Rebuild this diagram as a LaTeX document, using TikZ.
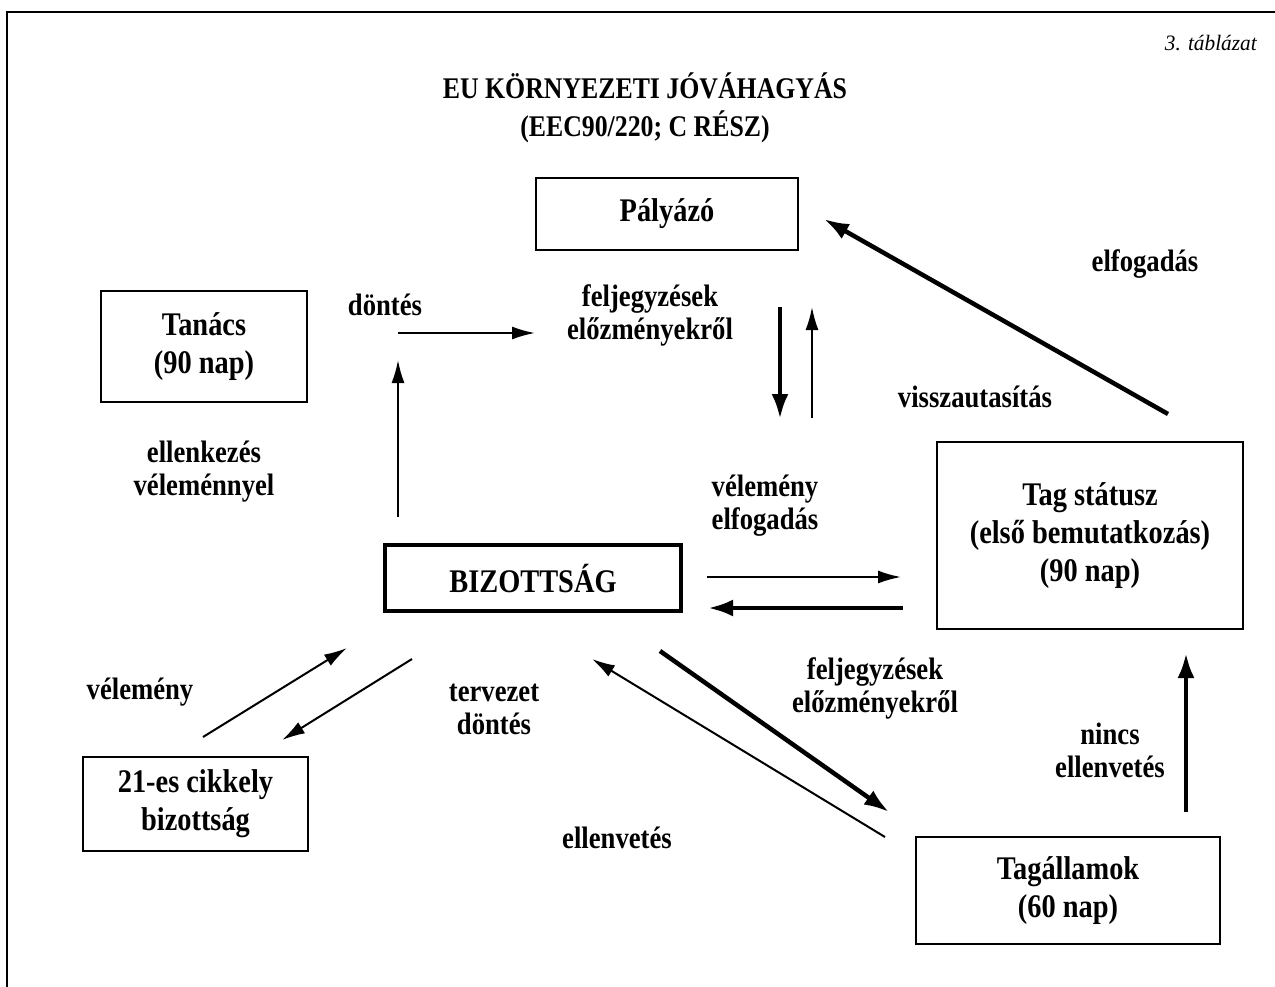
\documentclass[tikz,border=0pt]{standalone}
\usepackage{fontspec}
\setmainfont{Liberation Serif}
\newfontfamily\cond{Liberation Serif}[FakeStretch=0.86]
\newfontfamily\condb{Liberation Serif}[FakeStretch=0.97]
\usetikzlibrary{arrows.meta}
\begin{document}
\begin{tikzpicture}[x=1pt,y=-1pt,
  boxstyle/.style={draw,line width=2pt,align=center,inner sep=0pt,
    font=\cond\bfseries\fontsize{33}{38}\selectfont},
  lbl/.style={align=center,inner sep=0pt,font=\cond\bfseries\fontsize{31}{33}\selectfont},
  arrthin/.style={line width=2pt,-{Latex[length=23pt,width=13pt]}},
  arrthick/.style={line width=4.5pt,-{Latex[length=25pt,width=17pt]}}]
\useasboundingbox (0,0) rectangle (1275,986);
% frame
\draw[line width=2.5pt] (7,990) -- (7,12) -- (1280,12);
% caption and title
\node[anchor=east,inner sep=0pt,font=\condb\itshape\fontsize{22}{24}\selectfont] (tab) at (1257,43) {3. táblázat};
\node[lbl,font=\cond\bfseries\fontsize{30}{38}\selectfont] (title) at (645,108) {EU KÖRNYEZETI JÓVÁHAGYÁS\\(EEC90/220; C RÉSZ)};
% boxes
\node[boxstyle,minimum width=262pt,minimum height=72pt] (pal) at (667,214) {Pályázó};
\node[boxstyle,minimum width=206pt,minimum height=111pt] (tan) at (204,346.5) {Tanács\\(90 nap)};
\node[boxstyle,line width=4.5pt,minimum width=296pt,minimum height=66pt] (biz) at (533,578) {BIZOTTSÁG};
\node[boxstyle,minimum width=306pt,minimum height=187pt] (tag) at (1090,535.5) {Tag státusz\\(első bemutatkozás)\\(90 nap)};
\node[boxstyle,minimum width=304pt,minimum height=107pt] (taga) at (1068,890.5) {Tagállamok\\(60 nap)};
\node[boxstyle,minimum width=225pt,minimum height=94pt] (cikk) at (195.5,804) {21-es cikkely\\bizottság};
% labels
\node[lbl] (l1) at (385,305) {döntés};
\node[lbl] (l2) at (650,315) {feljegyzések\\előzményekről};
\node[lbl] (l3) at (1145,264) {elfogadás};
\node[lbl] (l4) at (975,397) {visszautasítás};
\node[lbl] (l5) at (765,506) {vélemény\\elfogadás};
\node[lbl] (l6) at (204,472) {ellenkezés\\véleménnyel};
\node[lbl] (l7) at (140,692) {vélemény};
\node[lbl] (l8) at (494,709) {tervezet\\döntés};
\node[lbl] (l9) at (617,838) {ellenvetés};
\node[lbl] (l10) at (875,688) {feljegyzések\\előzményekről};
\node[lbl] (l11) at (1110,750) {nincs\\ellenvetés};
% arrow end points
\coordinate (a1s) at (398,333); \coordinate (a1e) at (535,333);
\coordinate (a2s) at (398,517); \coordinate (a2e) at (398,360);
\coordinate (a3s) at (780,307); \coordinate (a3e) at (780,419);
\coordinate (a4s) at (812,418); \coordinate (a4e) at (812,307);
\coordinate (a5s) at (1168,414); \coordinate (a5e) at (824,219);
\coordinate (a6s) at (707,577); \coordinate (a6e) at (901,577);
\coordinate (a7s) at (903,608); \coordinate (a7e) at (708,608);
\coordinate (a8s) at (203,737); \coordinate (a8e) at (347,648);
\coordinate (a9s) at (412,659); \coordinate (a9e) at (282,740);
\coordinate (a10s) at (885,837); \coordinate (a10e) at (592,659);
\coordinate (a11s) at (660,651); \coordinate (a11e) at (889,812);
\coordinate (a12s) at (1186,812); \coordinate (a12e) at (1186,653);
% arrows
\draw[arrthin] (a1s) -- (a1e);
\draw[arrthin] (a2s) -- (a2e);
\draw[arrthick] (a3s) -- (a3e);
\draw[arrthin] (a4s) -- (a4e);
\draw[arrthick] (a5s) -- (a5e);
\draw[arrthin] (a6s) -- (a6e);
\draw[arrthick] (a7s) -- (a7e);
\draw[arrthin] (a8s) -- (a8e);
\draw[arrthin] (a9s) -- (a9e);
\draw[arrthin] (a10s) -- (a10e);
\draw[arrthick] (a11s) -- (a11e);
\draw[arrthick] (a12s) -- (a12e);
\end{tikzpicture}
\end{document}
